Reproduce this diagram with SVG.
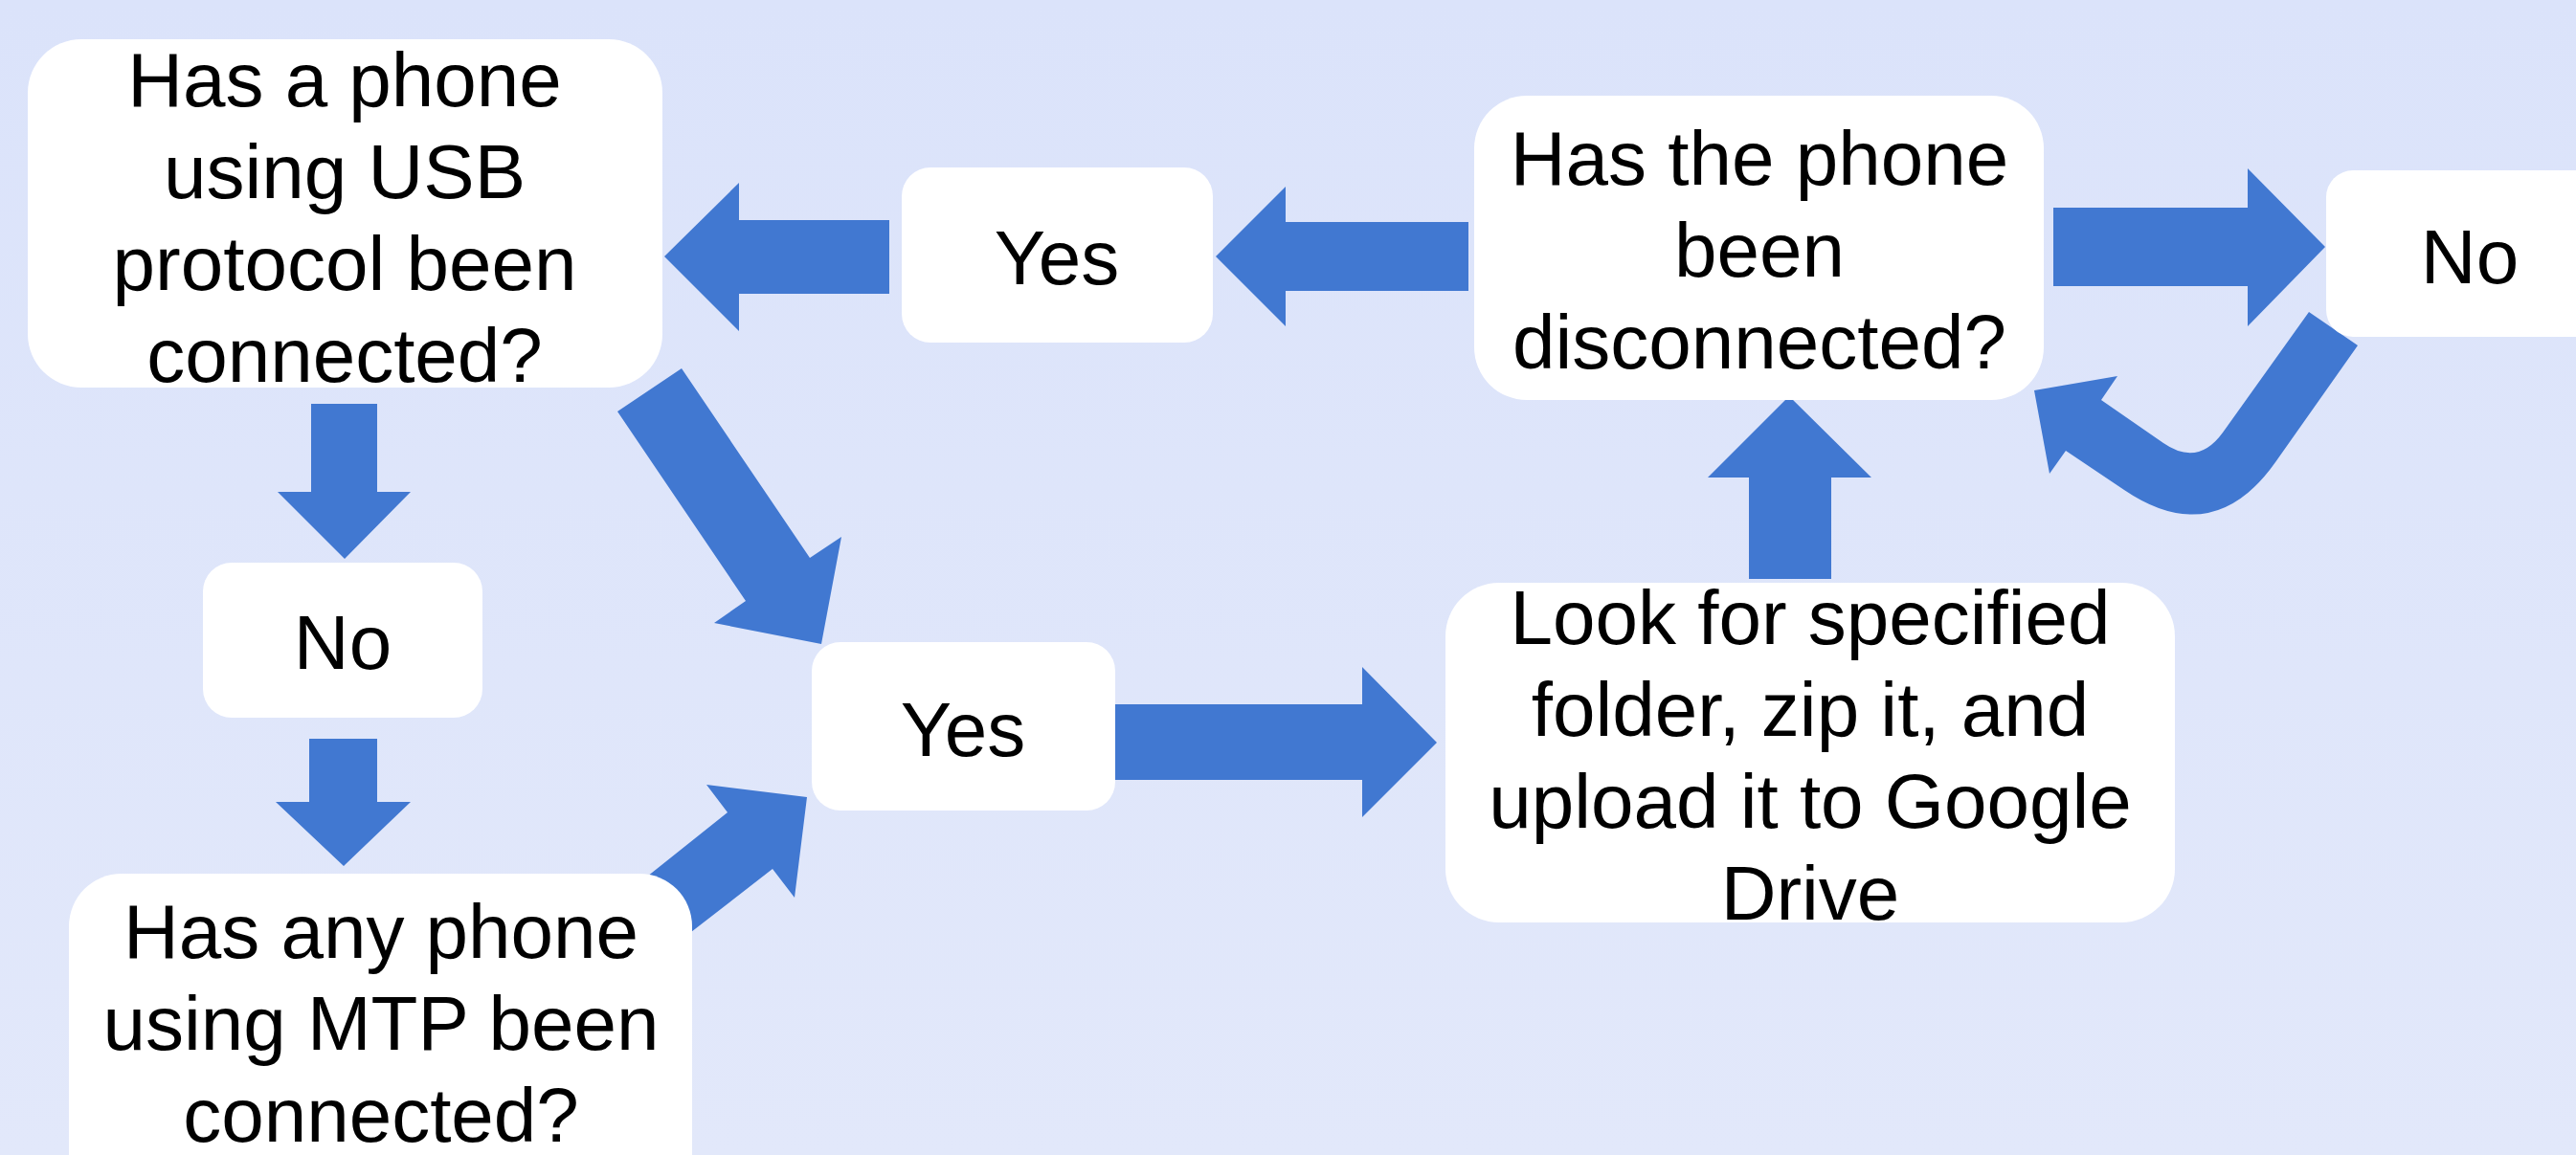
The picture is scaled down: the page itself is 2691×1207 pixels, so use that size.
<svg xmlns="http://www.w3.org/2000/svg" width="2691" height="1207" viewBox="0 0 2691 1207">
  <defs>
    <linearGradient id="bg" x1="0" y1="0" x2="0" y2="1">
      <stop offset="0" stop-color="#DBE3FA"/>
      <stop offset="1" stop-color="#E2E8FA"/>
    </linearGradient>
    <style>
      .box { fill: #FFFFFF; }
      .arrow { fill: #4178D1; }
      .label { font-family: "Liberation Sans", Arial, sans-serif; font-size: 80px; fill: #000000; text-anchor: middle; }
    </style>
  </defs>

  <!-- background -->
  <rect x="0" y="0" width="2691" height="1207" fill="url(#bg)"/>

  <!-- connectors: block arrows -->
  <g id="connectors">
    <!-- Yes (top) to USB question -->
    <polygon class="arrow" points="929,230 772,230 772,191 694,268 772,346 772,307 929,307"/>
    <!-- disconnected question to Yes (top) -->
    <polygon class="arrow" points="1534,232 1343,232 1343,195 1270,268 1343,341 1343,304 1534,304"/>
    <!-- disconnected question to No (right) -->
    <polygon class="arrow" points="2145,217 2348,217 2348,176 2429,258 2348,341 2348,299 2145,299"/>
    <!-- No (right) loops back to disconnected question -->
    <path class="arrow" d="M2412,326 L2463,361 L2377,483 Q2312,575 2219,512 L2158,471 L2141,495 L2125,408 L2212,393 L2195,418 L2260,463 Q2296,488 2322,452 Z"/>
    <!-- upload step to disconnected question -->
    <polygon class="arrow" points="1827,605 1827,499 1784,499 1869,414 1955,499 1913,499 1913,605"/>
    <!-- Yes (middle) to upload step -->
    <polygon class="arrow" points="1165,736 1423,736 1423,697 1501,776 1423,854 1423,815 1165,815"/>
    <!-- USB question to No (middle) -->
    <polygon class="arrow" points="325,422 394,422 394,514 429,514 360,584 290,514 325,514"/>
    <!-- No (middle) to MTP question -->
    <polygon class="arrow" points="323,772 394,772 394,838 429,838 359,905 288,838 323,838"/>
    <!-- USB question to Yes (middle) -->
    <polygon class="arrow" points="712,385 846,583 879,561 858,673 746,651 779,628 645,430"/>
    <!-- MTP question to Yes (middle) -->
    <polygon class="arrow" points="676,916 760,849 738,820 843,833 830,938 807,908 722,974"/>
  </g>

  <!-- nodes -->
  <g id="node-usb">
    <rect class="box" x="29" y="41" width="663" height="364" rx="56" ry="56"/>
    <text class="label" x="360" y="111">Has a phone</text>
    <text class="label" x="360" y="207">using USB</text>
    <text class="label" x="360" y="303">protocol been</text>
    <text class="label" x="360" y="399">connected?</text>
  </g>

  <g id="node-yes-top">
    <rect class="box" x="942" y="175" width="325" height="183" rx="30" ry="30"/>
    <text class="label" x="1104" y="297">Yes</text>
  </g>

  <g id="node-disconnected">
    <rect class="box" x="1540" y="100" width="595" height="318" rx="55" ry="55"/>
    <text class="label" x="1838" y="193">Has the phone</text>
    <text class="label" x="1838" y="289">been</text>
    <text class="label" x="1838" y="385">disconnected?</text>
  </g>

  <g id="node-no-right">
    <rect class="box" x="2430" y="178" width="300" height="174" rx="28" ry="28"/>
    <text class="label" x="2580" y="296">No</text>
  </g>

  <g id="node-no-middle">
    <rect class="box" x="212" y="588" width="292" height="162" rx="30" ry="30"/>
    <text class="label" x="358" y="699">No</text>
  </g>

  <g id="node-yes-middle">
    <rect class="box" x="848" y="671" width="317" height="176" rx="30" ry="30"/>
    <text class="label" x="1006" y="790">Yes</text>
  </g>

  <g id="node-upload">
    <rect class="box" x="1510" y="609" width="762" height="355" rx="56" ry="56"/>
    <text class="label" x="1891" y="673">Look for specified</text>
    <text class="label" x="1891" y="769">folder, zip it, and</text>
    <text class="label" x="1891" y="865">upload it to Google</text>
    <text class="label" x="1891" y="961">Drive</text>
  </g>

  <g id="node-mtp">
    <rect class="box" x="72" y="913" width="651" height="360" rx="55" ry="55"/>
    <text class="label" x="398" y="1001">Has any phone</text>
    <text class="label" x="398" y="1097">using MTP been</text>
    <text class="label" x="398" y="1193">connected?</text>
  </g>
</svg>
